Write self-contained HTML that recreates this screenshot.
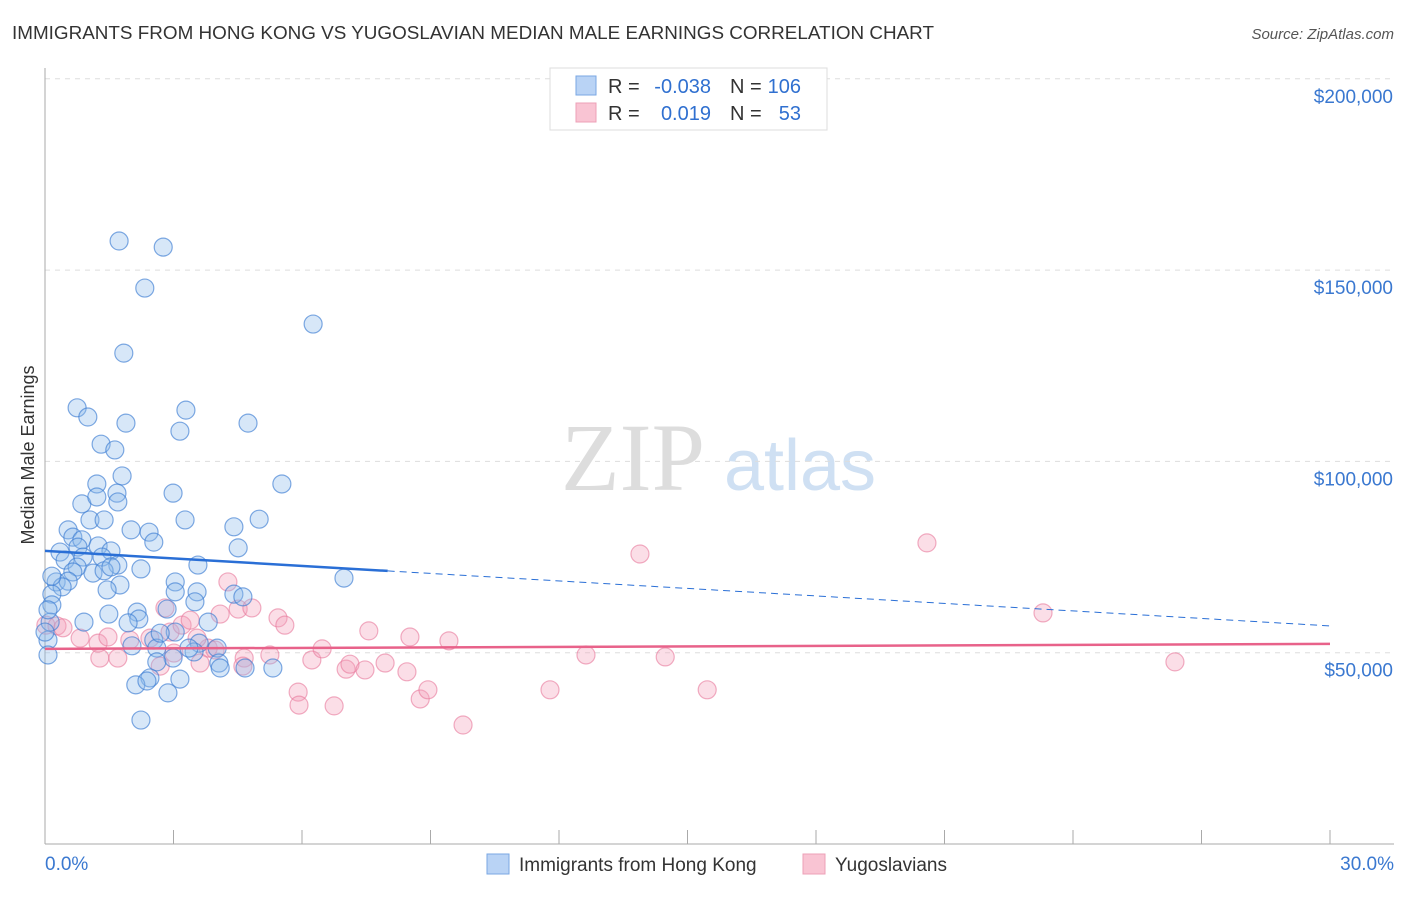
<!DOCTYPE html>
<html><head><meta charset="utf-8"><style>
body{margin:0;background:#fff;font-family:"Liberation Sans",sans-serif;}
</style></head><body>
<svg id="chart" width="1406" height="892" xmlns="http://www.w3.org/2000/svg" font-family="Liberation Sans, sans-serif">
<text x="12" y="39" font-size="18" fill="#333" textLength="922" lengthAdjust="spacingAndGlyphs">IMMIGRANTS FROM HONG KONG VS YUGOSLAVIAN MEDIAN MALE EARNINGS CORRELATION CHART</text>
<text x="1394" y="39" font-size="15" fill="#555" font-style="italic" text-anchor="end">Source: ZipAtlas.com</text>
<g><text x="633" y="490" font-size="96" fill="#ddd" font-family="Liberation Serif, serif" text-anchor="middle">ZIP</text><text x="800" y="490" font-size="72" fill="#cfe0f3" text-anchor="middle">atlas</text></g>
<g id="grid"></g><g id="axes"></g>
<g id="pink"></g><g id="blue"></g><g id="trends"></g>
<text transform="translate(34,455) rotate(-90)" font-size="18" fill="#333" text-anchor="middle">Median Male Earnings</text>
<g>
<rect x="550" y="68" width="277" height="62" fill="#fff" stroke="#ddd"/>
<rect x="576" y="76" width="20" height="19" fill="#b9d3f5" stroke="#7aa7e3"/>
<rect x="576" y="103" width="20" height="19" fill="#f9c4d3" stroke="#eda0b7"/>
<g font-size="20" fill="#333">
<text x="608" y="93">R =</text><text x="711" y="93" fill="#3070d0" text-anchor="end">-0.038</text>
<text x="730" y="93">N =</text><text x="801" y="93" fill="#3070d0" text-anchor="end">106</text>
<text x="608" y="120">R =</text><text x="711" y="120" fill="#3070d0" text-anchor="end">0.019</text>
<text x="730" y="120">N =</text><text x="801" y="120" fill="#3070d0" text-anchor="end">53</text>
</g>
</g>
<g>
<rect x="487" y="854" width="22" height="20" fill="#b9d3f5" stroke="#7aa7e3"/>
<text x="519" y="871" font-size="19" fill="#333">Immigrants from Hong Kong</text>
<rect x="803" y="854" width="22" height="20" fill="#f9c4d3" stroke="#eda0b7"/>
<text x="835" y="871" font-size="19" fill="#333">Yugoslavians</text>
</g>
</svg>
<script>
const blueX=[1.73,2.76,2.33,6.26,1.84,0.75,1.00,3.29,1.89,4.74,3.15,1.31,1.63,1.80,1.21,5.53,2.99,1.68,0.86,1.21,1.70,2.01,3.27,5.00,4.41,0.54,1.05,2.43,1.38,0.65,2.54,4.51,0.86,0.35,0.77,1.24,1.54,0.47,0.89,0.75,1.33,1.70,2.24,3.57,0.65,1.12,1.38,1.54,0.26,0.54,0.40,1.75,3.04,6.98,0.16,1.45,3.04,3.55,4.41,4.62,3.50,0.16,0.91,1.49,2.15,3.81,2.85,2.19,1.94,0.07,3.04,2.54,2.61,2.03,3.60,4.02,2.69,0.07,2.99,3.48,3.36,2.61,4.06,4.09,4.67,5.32,2.45,3.15,2.12,2.87,2.38,2.24,0.12,0.16,0.07,0.00];
const blueY=[157.6,156.0,145.3,135.9,128.3,114.0,111.6,113.4,110.0,110.0,107.9,104.5,103.0,96.2,94.1,94.1,91.7,91.7,88.9,90.7,89.4,82.1,84.7,84.9,82.9,82.1,84.7,81.5,84.7,80.2,78.9,77.4,79.5,76.3,77.6,77.9,76.6,74.2,75.0,72.4,75.0,72.9,71.9,72.9,71.1,70.8,71.4,72.4,68.5,68.7,67.2,67.7,68.5,69.5,65.3,66.4,65.9,65.9,65.3,64.6,63.3,62.5,58.0,60.1,60.6,58.0,61.4,58.8,57.8,53.3,55.4,53.3,51.2,51.8,52.5,51.2,55.1,49.4,48.6,50.2,51.2,47.6,47.3,46.0,46.0,46.0,43.4,43.1,41.6,39.5,42.6,32.4,58.0,70.0,61.2,55.4];
const pinkX=[0.02,0.28,0.42,0.82,1.24,1.47,1.98,2.45,2.80,2.92,3.20,4.27,4.09,4.51,4.83,5.44,5.60,3.01,1.28,1.70,3.81,3.97,3.55,4.65,5.25,4.62,3.62,6.23,6.47,7.03,7.12,7.56,7.47,7.94,8.45,8.52,9.43,5.91,5.93,6.75,8.76,8.94,9.76,11.79,12.63,13.89,14.48,15.46,20.59,23.30,26.38,2.69,3.39];
const pinkY=[57.2,57.0,56.5,53.8,52.5,54.1,53.3,53.8,61.7,55.4,57.2,68.5,60.1,61.4,61.7,59.1,57.2,49.9,48.6,48.6,51.2,50.7,53.8,48.6,49.4,46.5,47.3,48.1,51.0,45.7,47.0,55.7,45.5,47.3,45.0,54.1,53.1,39.7,36.3,36.1,37.9,40.3,31.1,40.3,49.4,75.8,48.9,40.3,78.7,60.4,47.6,46.5,58.5];
const blueTrend=[76.6,57.0];
const pinkTrend=[51.0,52.3];
const yTicks=[50,100,150,200];
const yTickLabels=["$50,000","$100,000","$150,000","$200,000"];
const xTickLabels=["0.0%","30.0%"];
const NS="http://www.w3.org/2000/svg";
const X=v=>45+v*(1285/30), Y=v=>844-v*3.826;
function mk(tag,attrs,parent){const e=document.createElementNS(NS,tag);for(const k in attrs)e.setAttribute(k,attrs[k]);document.getElementById(parent).appendChild(e);return e;}
yTicks.forEach((t,i)=>{
 const g=mk('line',{x1:45,x2:1394,y1:Y(t),y2:Y(t),stroke:'#ddd','stroke-dasharray':'5,5'},'grid');
 
 
 const l=mk('text',{x:1393,y:Y(t)+24,'font-size':19,fill:'#3a78d0','text-anchor':'end'},'axes');
 l.textContent=yTickLabels[i];
 
 
});
const ya=mk('line',{x1:45,x2:45,y1:68,y2:844,stroke:'#aaa'},'axes');


const xa=mk('line',{x1:45,x2:1394,y1:844,y2:844,stroke:'#aaa'},'axes');


for(let i=0;i<=10;i++){const t=mk('line',{x1:X(i*3),x2:X(i*3),y1:830,y2:844,stroke:'#aaa'},'axes');
 
 }
[[0,'start',45],[30,'end',1394]].forEach((d,i)=>{const l=mk('text',{x:d[2],y:870,'font-size':19,fill:'#3a78d0','text-anchor':d[1]},'axes');l.textContent=xTickLabels[i];
 
 });
pinkX.forEach((v,i)=>{const c=mk('circle',{cx:X(v),cy:Y(pinkY[i]),r:9,fill:'rgba(244,160,186,0.35)',stroke:'rgba(232,120,155,0.6)','stroke-width':1.2},'pink');
 
 });
blueX.forEach((v,i)=>{const c=mk('circle',{cx:X(v),cy:Y(blueY[i]),r:9,fill:'rgba(140,185,235,0.35)',stroke:'rgba(60,125,210,0.65)','stroke-width':1.2},'blue');
 
 });
const bAt=x=>blueTrend[0]+(blueTrend[1]-blueTrend[0])*x/30;
const t1=mk('line',{x1:X(0),y1:Y(bAt(0)),x2:X(8),y2:Y(bAt(8)),stroke:'#2a6fd6','stroke-width':2.5},'trends');


const t2=mk('line',{x1:X(8),y1:Y(bAt(8)),x2:X(30),y2:Y(bAt(30)),stroke:'#2a6fd6','stroke-width':1,'stroke-dasharray':'7,5'},'trends');


const t3=mk('line',{x1:X(0),y1:Y(pinkTrend[0]),x2:X(30),y2:Y(pinkTrend[1]),stroke:'#e8628a','stroke-width':2.5},'trends');


</script>
</body></html>
